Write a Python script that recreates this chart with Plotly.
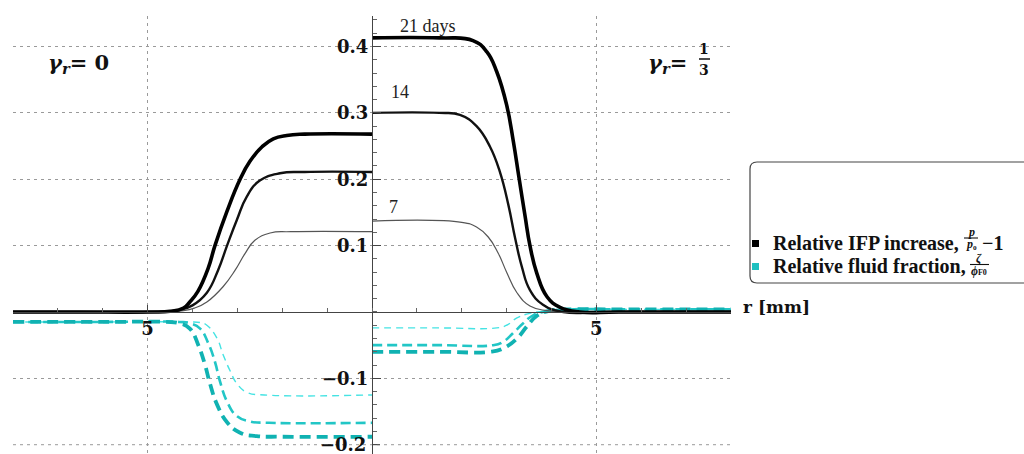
import plotly.graph_objects as go

# ---------------- data ----------------
# gamma_r = 0 (drawn on the left half, r mirrored)
r_L_ifp_21 = [8.0, 6.5, 5.0, 4.5, 4.2, 4.06, 3.88, 3.65, 3.50, 3.23, 2.94, 2.72, 2.45, 2.2, 1.9, 1.5, 0.0]
v_L_ifp_21 = [0, 0, 0, 0.001, 0.006, 0.015, 0.031, 0.066, 0.100, 0.152, 0.200, 0.227, 0.249, 0.261, 0.266, 0.268, 0.268]
r_L_ifp_14 = [8.0, 6.5, 5.0, 4.3, 4.0, 3.68, 3.43, 3.23, 3.01, 2.79, 2.50, 2.05, 1.5, 0.0]
v_L_ifp_14 = [0, 0, 0, 0.003, 0.010, 0.029, 0.063, 0.100, 0.139, 0.174, 0.198, 0.209, 0.211, 0.211]
r_L_ifp_7 = [8.0, 6.5, 5.0, 4.2, 3.95, 3.68, 3.32, 3.05, 2.83, 2.61, 2.27, 1.8, 0.0]
v_L_ifp_7 = [0, 0, 0, 0.002, 0.006, 0.015, 0.038, 0.063, 0.088, 0.108, 0.119, 0.121, 0.121]

r_L_ff_21 = [8.0, 6.0, 4.6, 4.3, 4.06, 3.87, 3.72, 3.61, 3.45, 3.23, 2.94, 2.57, 2.0, 0.0]
v_L_ff_21 = [-0.015, -0.015, -0.015, -0.017, -0.025, -0.050, -0.080, -0.108, -0.140, -0.166, -0.182, -0.187, -0.188, -0.188]
r_L_ff_14 = [8.0, 6.0, 4.3, 4.06, 3.83, 3.65, 3.5, 3.39, 3.23, 3.01, 2.72, 2.3, 0.0]
v_L_ff_14 = [-0.015, -0.015, -0.015, -0.017, -0.025, -0.047, -0.075, -0.104, -0.135, -0.157, -0.165, -0.167, -0.167]
r_L_ff_7 = [8.0, 6.0, 4.1, 3.83, 3.68, 3.45, 3.32, 3.16, 3.01, 2.79, 2.4, 0.0]
v_L_ff_7 = [-0.015, -0.015, -0.015, -0.016, -0.020, -0.040, -0.064, -0.089, -0.108, -0.121, -0.125, -0.125]

# gamma_r = 1/3 (drawn on the right half)
r_R_ifp_21 = [0.0, 1.5, 2.25, 2.56, 2.78, 3.0, 3.15, 3.27, 3.41, 3.52, 3.67, 3.9, 4.19, 4.63, 5.5, 8.0]
v_R_ifp_21 = [0.413, 0.413, 0.409, 0.392, 0.362, 0.312, 0.257, 0.205, 0.145, 0.100, 0.059, 0.023, 0.007, 0, 0, 0]
r_R_ifp_14 = [0.0, 1.5, 1.96, 2.33, 2.63, 2.85, 3.04, 3.19, 3.34, 3.52, 3.81, 4.26, 5.2, 8.0]
v_R_ifp_14 = [0.300, 0.300, 0.297, 0.280, 0.249, 0.211, 0.161, 0.111, 0.068, 0.033, 0.011, 0, 0, 0]
r_R_ifp_7 = [0.0, 2.0, 2.33, 2.59, 2.81, 3.0, 3.23, 3.52, 3.9, 4.4, 5.2, 8.0]
v_R_ifp_7 = [0.137, 0.135, 0.128, 0.113, 0.089, 0.060, 0.029, 0.009, 0.002, 0, 0, 0]

r_R_ff_21 = [0.0, 1.5, 2.63, 2.92, 3.23, 3.45, 3.67, 3.97, 4.5, 5.5, 8.0]
v_R_ff_21 = [-0.060, -0.060, -0.060, -0.055, -0.040, -0.022, -0.006, 0.002, 0.004, 0.004, 0.004]
r_R_ff_14 = [0.0, 1.5, 2.7, 2.92, 3.14, 3.37, 3.59, 3.9, 4.5, 5.5, 8.0]
v_R_ff_14 = [-0.050, -0.050, -0.050, -0.045, -0.032, -0.017, -0.005, 0.001, 0.004, 0.004, 0.004]
r_R_ff_7 = [0.0, 1.5, 2.78, 3.0, 3.23, 3.52, 3.81, 4.5, 5.5, 8.0]
v_R_ff_7 = [-0.024, -0.024, -0.024, -0.020, -0.009, -0.002, 0.001, 0.004, 0.004, 0.004]

y_tick_vals = [-0.2, -0.1, 0.1, 0.2, 0.3, 0.4]
y_tick_text = ["\u22120.2", "\u22120.1", "0.1", "0.2", "0.3", "0.4"]
x_tick_vals = [-5, 5]
x_tick_text = ["5", "5"]
day_labels = ["21 days", "14", "7"]

# ---------------- layout geometry ----------------
FW, FH = 1024, 454
ML, MR, MT, MB = 13, 293, 16, 0
PW, PH = FW - ML - MR, FH - MT - MB
X_RANGE = [-8, 8]
Y_RANGE = [-0.214, 0.446]


def px(X):
    return (X - ML) / PW


def py(Y):
    return (FH - MB - Y) / PH


SERIF_B = "DejaVu Serif"
LEG_FONT = "Liberation Serif"
GRID_COL = "#9a9a9a"
GRID_DASH = "3px,4px"

fig = go.Figure()

cyan_styles = [("#45E3E3", 1.4, "7px,5px"), ("#22C6C6", 2.6, "10px,5px"), ("#10B2B2", 3.8, "11px,6px")]
black_styles = [("#555555", 1.2), ("#111111", 2.4), ("#000000", 3.6)]

ff_sets = [(r_L_ff_7, v_L_ff_7, r_R_ff_7, v_R_ff_7),
           (r_L_ff_14, v_L_ff_14, r_R_ff_14, v_R_ff_14),
           (r_L_ff_21, v_L_ff_21, r_R_ff_21, v_R_ff_21)]
ifp_sets = [(r_L_ifp_7, v_L_ifp_7, r_R_ifp_7, v_R_ifp_7),
            (r_L_ifp_14, v_L_ifp_14, r_R_ifp_14, v_R_ifp_14),
            (r_L_ifp_21, v_L_ifp_21, r_R_ifp_21, v_R_ifp_21)]

SM = 1.3
for (rl, vl, rr, vr), (col, w, dash) in zip(ff_sets, cyan_styles):
    fig.add_trace(go.Scatter(x=[-r for r in rl], y=vl, mode="lines",
                             line=dict(color=col, width=w, dash=dash, shape="spline", smoothing=SM),
                             showlegend=False, hoverinfo="skip"))
    fig.add_trace(go.Scatter(x=rr, y=vr, mode="lines",
                             line=dict(color=col, width=w, dash=dash, shape="spline", smoothing=SM),
                             showlegend=False, hoverinfo="skip"))

for (rl, vl, rr, vr), (col, w) in zip(ifp_sets, black_styles):
    fig.add_trace(go.Scatter(x=[-r for r in rl], y=vl, mode="lines",
                             line=dict(color=col, width=w, shape="spline", smoothing=SM),
                             showlegend=False, hoverinfo="skip"))
    fig.add_trace(go.Scatter(x=rr, y=vr, mode="lines",
                             line=dict(color=col, width=w, shape="spline", smoothing=SM),
                             showlegend=False, hoverinfo="skip"))

x_axis_pos = (0 - Y_RANGE[0]) / (Y_RANGE[1] - Y_RANGE[0])
y_axis_pos = (0 - X_RANGE[0]) / (X_RANGE[1] - X_RANGE[0])

# the lowest tick sits at the very bottom edge; it is drawn by hand below
auto_y_vals = [v for v in y_tick_vals if v > Y_RANGE[0] + 0.02]
auto_y_text = [t for v, t in zip(y_tick_vals, y_tick_text) if v > Y_RANGE[0] + 0.02]
edge_y_vals = [v for v in y_tick_vals if v <= Y_RANGE[0] + 0.02]
edge_y_text = [t for v, t in zip(y_tick_vals, y_tick_text) if v <= Y_RANGE[0] + 0.02]

fig.update_layout(
    width=FW, height=FH,
    margin=dict(l=ML, r=MR, t=MT, b=MB, autoexpand=False),
    paper_bgcolor="white", plot_bgcolor="white",
    showlegend=False,
    xaxis=dict(range=X_RANGE, anchor="free", position=x_axis_pos,
               showline=True, linecolor="#444444", linewidth=1,
               tickvals=x_tick_vals, ticktext=x_tick_text,
               ticks="inside", ticklen=7, tickcolor="#444444",
               tickfont=dict(family=SERIF_B, size=18, color="#111111", weight="bold"),
               showgrid=True, gridcolor=GRID_COL, griddash=GRID_DASH, gridwidth=1,
               minor=dict(dtick=1, tick0=0, ticks="inside", ticklen=4, tickcolor="#666666", showgrid=False),
               zeroline=False, fixedrange=True),
    yaxis=dict(range=Y_RANGE, anchor="free", position=y_axis_pos,
               showline=True, linecolor="#444444", linewidth=1,
               tickvals=auto_y_vals, ticktext=auto_y_text,
               ticks="inside", ticklen=8, tickcolor="#444444",
               tickfont=dict(family=SERIF_B, size=18, color="#111111", weight="bold"),
               showgrid=True, gridcolor=GRID_COL, griddash=GRID_DASH, gridwidth=1,
               minor=dict(dtick=0.02, tick0=0, ticks="inside", ticklen=4, tickcolor="#666666", showgrid=False),
               zeroline=False, fixedrange=True),
)

ann = []
for v, t in zip(edge_y_vals, edge_y_text):
    ann.append(dict(x=px(368), y=v, xref="paper", yref="y", text=t, showarrow=False,
                    xanchor="right", yanchor="middle",
                    font=dict(family=SERIF_B, size=18, color="#111111", weight="bold")))
# day labels
for txt, (X, Y) in zip(day_labels, [(428, 26), (400, 92), (393, 207)]):
    ann.append(dict(x=px(X), y=py(Y), xref="paper", yref="paper", text=txt, showarrow=False,
                    xanchor="center", yanchor="middle",
                    font=dict(family=LEG_FONT, size=18, color="#222222")))
# gamma labels
ann.append(dict(x=px(46), y=py(63), xref="paper", yref="paper",
                text="<b><i>\u03b3</i><sub><i>r</i></sub>= 0</b>", showarrow=False,
                xanchor="left", yanchor="middle", font=dict(family=SERIF_B, size=21, color="#111111")))
ann.append(dict(x=px(646), y=py(63), xref="paper", yref="paper",
                text="<b><i>\u03b3</i><sub><i>r</i></sub>=</b>", showarrow=False,
                xanchor="left", yanchor="middle", font=dict(family=SERIF_B, size=21, color="#111111")))
ann.append(dict(x=px(704), y=py(49), xref="paper", yref="paper", text="<b>1</b>", showarrow=False,
                xanchor="center", yanchor="middle", font=dict(family=SERIF_B, size=14, color="#111111")))
ann.append(dict(x=px(704), y=py(70), xref="paper", yref="paper", text="<b>3</b>", showarrow=False,
                xanchor="center", yanchor="middle", font=dict(family=SERIF_B, size=14, color="#111111")))
# axis label
ann.append(dict(x=px(741), y=py(307), xref="paper", yref="paper", text="<b>r [mm]</b>", showarrow=False,
                xanchor="left", yanchor="middle", font=dict(family=SERIF_B, size=17, color="#111111")))

# legend texts (fractions built from small stacked texts)
FR = 11
ann.append(dict(x=px(771), y=py(243), xref="paper", yref="paper", text="<b>Relative IFP increase,</b>",
                showarrow=False, xanchor="left", yanchor="middle",
                font=dict(family=LEG_FONT, size=20, color="#111111")))
ann.append(dict(x=px(971), y=py(232), xref="paper", yref="paper", text="<b><i>p</i></b>",
                showarrow=False, xanchor="center", yanchor="middle",
                font=dict(family=LEG_FONT, size=FR + 1, color="#111111")))
ann.append(dict(x=px(971), y=py(244), xref="paper", yref="paper", text="<b><i>p</i>\u2080</b>",
                showarrow=False, xanchor="center", yanchor="middle",
                font=dict(family=LEG_FONT, size=FR + 1, color="#111111")))
ann.append(dict(x=px(980), y=py(243), xref="paper", yref="paper", text="<b>\u22121</b>",
                showarrow=False, xanchor="left", yanchor="middle",
                font=dict(family=LEG_FONT, size=20, color="#111111")))
ann.append(dict(x=px(771), y=py(266), xref="paper", yref="paper", text="<b>Relative fluid fraction,</b>",
                showarrow=False, xanchor="left", yanchor="middle",
                font=dict(family=LEG_FONT, size=20, color="#111111")))
ann.append(dict(x=px(979), y=py(258), xref="paper", yref="paper", text="<b><i>\u03b6</i></b>",
                showarrow=False, xanchor="center", yanchor="middle",
                font=dict(family=LEG_FONT, size=FR + 1, color="#111111")))
ann.append(dict(x=px(979), y=py(271), xref="paper", yref="paper", text="<b><i>\u03d5</i>\u2098</b>".replace("\u2098", "<span style='font-size:8px'>F0</span>"),
                showarrow=False, xanchor="center", yanchor="middle",
                font=dict(family=LEG_FONT, size=FR + 1, color="#111111")))
fig.update_layout(annotations=ann)

# shapes: hand-drawn edge gridline/tick, fraction bars, legend box and swatches
shapes = []
for v in edge_y_vals:
    shapes.append(dict(type="line", xref="x", yref="y", x0=X_RANGE[0], x1=X_RANGE[1], y0=v, y1=v,
                       line=dict(color=GRID_COL, width=1, dash=GRID_DASH), layer="below"))
    shapes.append(dict(type="line", xref="paper", yref="y", x0=y_axis_pos, x1=y_axis_pos + 8 / PW, y0=v, y1=v,
                       line=dict(color="#444444", width=1)))
shapes.append(dict(type="line", xref="paper", yref="paper", x0=px(699), x1=px(710), y0=py(59), y1=py(59),
                   line=dict(color="#111111", width=1.5)))
shapes.append(dict(type="line", xref="paper", yref="paper", x0=px(964), x1=px(978), y0=py(238), y1=py(238),
                   line=dict(color="#111111", width=1.1)))
shapes.append(dict(type="line", xref="paper", yref="paper", x0=px(970), x1=px(989), y0=py(264.5), y1=py(264.5),
                   line=dict(color="#111111", width=1.1)))

bx0, bx1, by0, by1, rad = 750, 1045, 162, 283, 7


def P(X, Y):
    return f"{px(X):.5f},{py(Y):.5f}"


path = (f"M{P(bx0 + rad, by0)} L{P(bx1, by0)} L{P(bx1, by1)} L{P(bx0 + rad, by1)} "
        f"Q{P(bx0, by1)} {P(bx0, by1 - rad)} L{P(bx0, by0 + rad)} Q{P(bx0, by0)} {P(bx0 + rad, by0)} Z")
shapes.append(dict(type="path", xref="paper", yref="paper", path=path,
                   line=dict(color="#444444", width=1.2), fillcolor="rgba(0,0,0,0)"))
shapes.append(dict(type="rect", xref="paper", yref="paper", x0=px(752), x1=px(759), y0=py(240), y1=py(247),
                   line=dict(width=0), fillcolor="#000000"))
shapes.append(dict(type="rect", xref="paper", yref="paper", x0=px(752), x1=px(759), y0=py(263), y1=py(270),
                   line=dict(width=0), fillcolor="#1FC0C0"))
fig.update_layout(shapes=shapes)

fig.write_html("out.html")
